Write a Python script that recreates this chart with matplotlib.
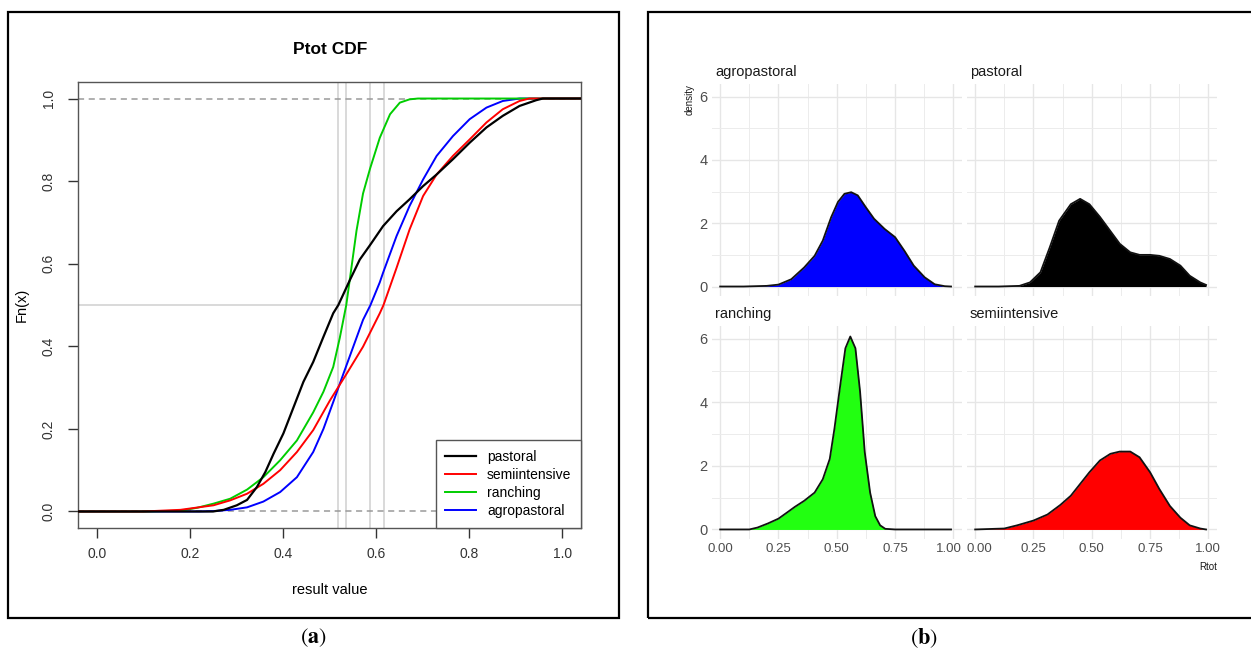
import matplotlib
matplotlib.use("Agg")
import matplotlib.pyplot as plt
from matplotlib.patches import Rectangle
from matplotlib.ticker import MultipleLocator
from matplotlib.transforms import ScaledTranslation

W, H = 1251, 655

# ---- left panel: empirical CDF of Ptot ----
cdf_pastoral_x = [-0.04, 0.25, 0.273, 0.301, 0.323, 0.344, 0.362, 0.38, 0.401, 0.423, 0.444, 0.465, 0.487,
                  0.508, 0.519, 0.544, 0.565, 0.587, 0.615, 0.644, 0.672, 0.701, 0.73, 0.765, 0.801, 0.837,
                  0.872, 0.908, 0.944, 0.958, 1.04]
cdf_pastoral_y = [0, 0, 0.004, 0.015, 0.028, 0.059, 0.095, 0.14, 0.189, 0.253, 0.314, 0.362, 0.423,
                  0.48, 0.5, 0.561, 0.61, 0.645, 0.691, 0.727, 0.756, 0.788, 0.816, 0.853, 0.893, 0.93,
                  0.958, 0.982, 0.996, 1.0, 1.0]

cdf_semi_x = [-0.04, 0.1, 0.18, 0.251, 0.287, 0.323, 0.358, 0.394, 0.43, 0.465, 0.501, 0.537, 0.572,
              0.608, 0.616, 0.644, 0.672, 0.701, 0.73, 0.765, 0.801, 0.837, 0.872, 0.908, 0.929, 1.04]
cdf_semi_y = [0, 0, 0.004, 0.015, 0.027, 0.043, 0.067, 0.1, 0.144, 0.197, 0.269, 0.334, 0.399,
              0.48, 0.5, 0.59, 0.683, 0.764, 0.816, 0.861, 0.901, 0.942, 0.974, 0.994, 1.0, 1.0]

cdf_ranch_x = [-0.04, 0.1, 0.18, 0.216, 0.251, 0.287, 0.323, 0.358, 0.394, 0.43, 0.465, 0.487, 0.508,
               0.522, 0.536, 0.544, 0.558, 0.572, 0.587, 0.608, 0.63, 0.651, 0.672, 0.69, 1.04]
cdf_ranch_y = [0, 0, 0.002, 0.009, 0.019, 0.031, 0.053, 0.083, 0.124, 0.172, 0.24, 0.29, 0.35,
               0.42, 0.5, 0.565, 0.68, 0.77, 0.83, 0.905, 0.962, 0.99, 0.998, 1.0, 1.0]

cdf_agro_x = [-0.04, 0.22, 0.251, 0.287, 0.323, 0.358, 0.394, 0.43, 0.465, 0.487, 0.508, 0.53, 0.551,
              0.572, 0.588, 0.608, 0.615, 0.644, 0.672, 0.701, 0.73, 0.765, 0.801, 0.837, 0.872, 0.908, 1.04]
cdf_agro_y = [0, 0, 0.001, 0.004, 0.01, 0.024, 0.047, 0.083, 0.144, 0.2, 0.265, 0.334, 0.399,
              0.464, 0.5, 0.555, 0.578, 0.667, 0.74, 0.804, 0.861, 0.909, 0.95, 0.978, 0.994, 1.0, 1.0]

medians = [0.518, 0.536, 0.588, 0.616]

# ---- right panel: densities of Rtot ----
dens_agro_x = [0.0, 0.1, 0.15, 0.2, 0.25, 0.305, 0.36, 0.405, 0.44, 0.476, 0.505, 0.533, 0.562, 0.59,
               0.625, 0.66, 0.705, 0.75, 0.79, 0.83, 0.877, 0.92, 0.963, 0.99]
dens_agro_y = [0.0, 0.0, 0.01, 0.02, 0.06, 0.23, 0.6, 0.97, 1.45, 2.19, 2.67, 2.93, 2.98, 2.88,
               2.5, 2.14, 1.82, 1.56, 1.13, 0.66, 0.29, 0.07, 0.01, 0.0]

dens_past_x = [0.0, 0.1, 0.19, 0.235, 0.28, 0.32, 0.36, 0.41, 0.45, 0.49, 0.535, 0.578, 0.62, 0.665,
               0.705, 0.75, 0.79, 0.835, 0.88, 0.92, 0.965, 0.99]
dens_past_y = [0.0, 0.0, 0.02, 0.13, 0.45, 1.24, 2.08, 2.6, 2.77, 2.6, 2.2, 1.77, 1.35, 1.08,
               1.0, 1.0, 0.97, 0.87, 0.66, 0.34, 0.13, 0.05]

dens_ranch_x = [0.0, 0.125, 0.16, 0.205, 0.25, 0.29, 0.32, 0.36, 0.405, 0.44, 0.47, 0.49, 0.515, 0.537,
                0.558, 0.58, 0.6, 0.62, 0.643, 0.665, 0.686, 0.708, 0.75, 0.99]
dens_ranch_y = [0.0, 0.0, 0.06, 0.19, 0.34, 0.55, 0.71, 0.9, 1.16, 1.58, 2.22, 3.17, 4.54, 5.7,
                6.07, 5.7, 4.33, 2.43, 1.16, 0.42, 0.13, 0.02, 0.0, 0.0]

dens_semi_x = [0.0, 0.125, 0.18, 0.25, 0.31, 0.365, 0.41, 0.45, 0.49, 0.535, 0.58, 0.62, 0.665, 0.705,
               0.75, 0.79, 0.835, 0.88, 0.92, 0.965, 0.99]
dens_semi_y = [0.0, 0.03, 0.13, 0.28, 0.47, 0.77, 1.06, 1.43, 1.8, 2.17, 2.38, 2.45, 2.45, 2.27,
               1.8, 1.27, 0.74, 0.37, 0.13, 0.03, 0.0]

plt.rcParams['font.family'] = ['Liberation Sans', 'DejaVu Sans']
plt.rcParams['mathtext.fontset'] = 'stix'


def box(x0, y0, x1, y1):
    # pixel box (top-left origin) -> figure coords
    return [x0 / W, 1 - y1 / H, (x1 - x0) / W, (y1 - y0) / H]


def ftext(x, y, s, **kw):
    fig.text(x / W, 1 - y / H, s, **kw)


fig = plt.figure(figsize=(W / 100, H / 100), dpi=100)

# outer frames
for x0, x1 in [(8, 619), (648, 1260)]:
    fig.add_artist(Rectangle((x0 / W, 1 - 618 / H), (x1 - x0) / W, (618 - 12) / H,
                             transform=fig.transFigure, fill=False, edgecolor='black', linewidth=1.6))

# ---------------- (a) ----------------
ax = fig.add_axes(box(78, 82, 581, 528))
for xv in medians:
    ax.axvline(xv, color='#d3d3d3', lw=1.2, zorder=1)
ax.axhline(0.5, color='#d3d3d3', lw=1.2, zorder=1)
ax.axhline(0.0, color='#9a9a9a', lw=1.1, ls=(0, (4, 3)), zorder=1)
ax.axhline(1.0, color='#9a9a9a', lw=1.1, ls=(0, (4, 3)), zorder=1)

ax.plot(cdf_agro_x, cdf_agro_y, color='#0000ff', lw=1.4, label='agropastoral', zorder=3)
ax.plot(cdf_ranch_x, cdf_ranch_y, color='#00cd00', lw=1.4, label='ranching', zorder=3)
ax.plot(cdf_semi_x, cdf_semi_y, color='#ff0000', lw=1.4, label='semiintensive', zorder=3)
ax.plot(cdf_pastoral_x, cdf_pastoral_y, color='black', lw=1.6, label='pastoral', zorder=3)

ax.set_xlim(-0.04, 1.04)
ax.set_ylim(-0.04, 1.04)
ticks = [0.0, 0.2, 0.4, 0.6, 0.8, 1.0]
ax.set_xticks(ticks)
ax.set_xticklabels([f"{t:.1f}" for t in ticks])
ax.set_yticks(ticks)
ax.set_yticklabels([f"{t:.1f}" for t in ticks], rotation=90, va='center')
ax.tick_params(length=7, width=1, colors='#333333', labelsize=10, pad=7)
ax.tick_params(axis='y', pad=9)
for sp in ax.spines.values():
    sp.set_color('#555555')
    sp.set_linewidth(1.0)

h, l = ax.get_legend_handles_labels()
order = [3, 2, 1, 0]
leg = ax.legend([h[i] for i in order], [l[i] for i in order], loc='lower right',
                bbox_to_anchor=(1.0, 0.0), borderaxespad=0, fancybox=False,
                edgecolor='#555555', framealpha=1, fontsize=10, handlelength=2.2,
                labelspacing=0.3, borderpad=0.7, handletextpad=0.8)
leg.get_frame().set_linewidth(1.0)

ftext(330, 49, "Ptot CDF", ha='center', va='center', fontsize=12.5, fontweight='bold')
ftext(330, 590, "result value", ha='center', va='center', fontsize=10.5)
ftext(22, 305, "Fn(x)", ha='center', va='center', fontsize=10.5, rotation=90)

# ---------------- (b) ----------------
facets = [
    ("agropastoral", dens_agro_x, dens_agro_y, '#0000ff', (712, 84, 962, 296)),
    ("pastoral", dens_past_x, dens_past_y, 'black', (967, 84, 1217, 296)),
    ("ranching", dens_ranch_x, dens_ranch_y, '#22ff11', (712, 326, 962, 539)),
    ("semiintensive", dens_semi_x, dens_semi_y, '#ff0000', (967, 326, 1217, 539)),
]
xt = [0, 0.25, 0.5, 0.75, 1.0]
for i, (name, xs, ys, col, b) in enumerate(facets):
    fa = fig.add_axes(box(*b))
    fa.fill_between(xs, ys, 0, color=col, lw=0, zorder=2)
    fa.plot(xs, ys, color='#111111', lw=1.3, zorder=3)
    fa.set_xlim(-0.035, 1.037)
    fa.set_ylim(-0.3, 6.4)
    fa.xaxis.set_major_locator(MultipleLocator(0.25))
    fa.xaxis.set_minor_locator(MultipleLocator(0.125))
    fa.yaxis.set_major_locator(MultipleLocator(2))
    fa.yaxis.set_minor_locator(MultipleLocator(1))
    fa.grid(which='major', color='#e6e6e6', lw=1.0, zorder=0)
    fa.grid(which='minor', color='#ececec', lw=0.7, zorder=0)
    fa.set_axisbelow(True)
    for sp in fa.spines.values():
        sp.set_visible(False)
    fa.tick_params(which='both', length=0, labelsize=10.5, colors='#4d4d4d', pad=3)
    if i % 2 == 0:
        fa.set_yticks([0, 2, 4, 6])
        fa.set_yticklabels(['0', '2', '4', '6'])
    else:
        fa.set_yticklabels([])
    if i >= 2:
        fa.set_xticks(xt)
        labs = fa.set_xticklabels([f"{v:.2f}" for v in xt], fontsize=9.5)
        # nudge the two labels that meet at the facet gap apart
        if i == 2:
            labs[-1].set_transform(labs[-1].get_transform() +
                                   ScaledTranslation(-3 / 72, 0, fig.dpi_scale_trans))
        else:
            labs[0].set_transform(labs[0].get_transform() +
                                  ScaledTranslation(3 / 72, 0, fig.dpi_scale_trans))
    else:
        fa.set_xticklabels([])
    ftext(b[0] + 3, b[1] - 12, name, ha='left', va='center', fontsize=10.5, color='#1a1a1a')

ftext(690, 100, "density", ha='center', va='center', rotation=90, fontsize=7, color='#1a1a1a')
ftext(1217, 567, "Rtot", ha='right', va='center', fontsize=7, color='#1a1a1a')

# captions
ftext(313, 638, r"($\mathbf{a}$)", ha='center', va='center', fontsize=16, family='STIXGeneral')
ftext(924, 638, r"($\mathbf{b}$)", ha='center', va='center', fontsize=16, family='STIXGeneral')

fig.savefig("out.png", dpi=100)
